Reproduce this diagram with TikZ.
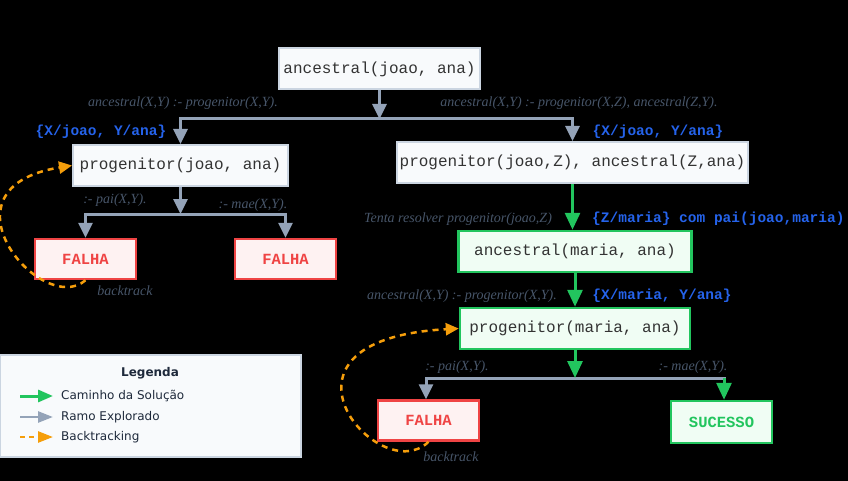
\documentclass[tikz,border=0pt]{standalone}
\usepackage{fontspec}
\setmainfont{Liberation Serif}
\setsansfont{DejaVu Sans}
\setmonofont{Liberation Mono}
\usetikzlibrary{arrows.meta}
\definecolor{goalborder}{HTML}{CBD5E1}
\definecolor{goalfill}{HTML}{F8FAFC}
\definecolor{goaltext}{HTML}{333333}
\definecolor{pathgreen}{HTML}{22C55E}
\definecolor{pathfill}{HTML}{F0FDF4}
\definecolor{failred}{HTML}{EF4444}
\definecolor{failfill}{HTML}{FEF2F2}
\definecolor{branchgray}{HTML}{94A3B8}
\definecolor{btorange}{HTML}{F59E0B}
\definecolor{rulegray}{HTML}{475569}
\definecolor{substblue}{HTML}{2563EB}
\definecolor{legendtext}{HTML}{1E293B}

\begin{document}
\begin{tikzpicture}[x=1pt, y=-1pt,
    goal/.style={rectangle, draw=goalborder, fill=goalfill, line width=2pt, text=goaltext, font=\ttfamily\fontsize{16}{18}\selectfont, minimum height=41pt, inner sep=0pt},
    pathgoal/.style={goal, draw=pathgreen, fill=pathfill, line width=2.5pt},
    failbox/.style={goal, draw=failred, fill=failfill, line width=2.5pt, text=failred, font=\ttfamily\bfseries\fontsize{15.5}{18}\selectfont, minimum width=101pt, minimum height=40pt},
    successbox/.style={failbox, draw=pathgreen, fill=pathfill, text=pathgreen, minimum height=42pt},
    rule/.style={text=rulegray, font=\itshape\fontsize{14}{16}\selectfont, inner sep=0pt},
    subst/.style={text=substblue, font=\ttfamily\bfseries\fontsize{14.5}{16}\selectfont, inner sep=0pt},
    legtext/.style={text=legendtext, font=\sffamily\fontsize{12}{14}\selectfont, anchor=west, inner sep=0pt},
    branch/.style={draw=branchgray, line width=3pt, line cap=rect},
    explored/.style={->, draw=branchgray, line width=3pt, >={Triangle[length=15pt, width=14pt]}},
    solution/.style={->, draw=pathgreen, line width=3pt, >={Triangle[length=17pt, width=15pt]}},
    backtrack/.style={->, draw=btorange, line width=2.5pt, dash pattern=on 6pt off 5pt, >={Triangle[length=13pt, width=12pt]}}]

    \useasboundingbox (0,0) rectangle (848,481);
    \fill[black] (0,0) rectangle (848,481);

    % goals of the search tree
    \node[goal, minimum width=201pt] (A) at (379.5,69) {ancestral(joao, ana)};
    \node[goal, minimum width=215pt] (B) at (180.5,165.5) {progenitor(joao, ana)};
    \node[goal, minimum width=351pt] (C) at (572.5,162.5) {progenitor(joao,Z), ancestral(Z,ana)};
    \node[failbox] (F1) at (85.5,259) {FALHA};
    \node[failbox] (F2) at (285.5,259) {FALHA};
    \node[pathgoal, minimum width=233pt] (D) at (575,251.5) {ancestral(maria, ana)};
    \node[pathgoal, minimum width=230pt] (E) at (575,328.5) {progenitor(maria, ana)};
    \node[failbox] (F3) at (428.5,420.5) {FALHA};
    \node[successbox] (S) at (721.5,422) {SUCESSO};

    % split points
    \coordinate (s1) at (379.5,119);
    \coordinate (s1l) at (180.5,119);
    \coordinate (s1r) at (572.5,119);
    \coordinate (s2) at (180.5,214);
    \coordinate (s2l) at (85.5,214);
    \coordinate (s2r) at (285.5,214);
    \coordinate (s3) at (575,378);
    \coordinate (s3l) at (426,378);
    \coordinate (s3r) at (724,378);

    \draw[branch] (s1l) -- (s1r);
    \draw[explored] (A) -- (s1);
    \draw[explored] (s1l) -- (B);
    \draw[explored] (s1r) -- (C);

    \draw[branch] (s2l) -- (s2r);
    \draw[explored] (B) -- (s2);
    \draw[explored] (s2l) -- (F1);
    \draw[explored] (s2r) -- (F2);

    \draw[solution] (C.south) -- (C.south |- D.north);
    \draw[solution] (D) -- (E);

    \draw[branch] (s3l) -- (s3r);
    \draw[solution] (E) -- (s3);
    \draw[explored] (s3l) -- (s3l |- F3.north);
    \draw[solution] (s3r) -- (s3r |- S.north);

    % backtracking
    \draw[backtrack] (F1.south) .. controls (42,318) and (-68,188) .. (B.west);
    \draw[backtrack] (F3.south) .. controls (380,490) and (250,340) .. (E.west);

    % clause and substitution labels
    \node[rule] (r1) at (183,103) {ancestral(X,Y) :- progenitor(X,Y).};
    \node[rule] (r2) at (579,103) {ancestral(X,Y) :- progenitor(X,Z), ancestral(Z,Y).};
    \node[subst] (u1) at (101,132) {\{X/joao, Y/ana\}};
    \node[subst] (u2) at (658,132) {\{X/joao, Y/ana\}};
    \node[rule] (r3) at (115,200) {:- pai(X,Y).};
    \node[rule] (r4) at (253,205) {:- mae(X,Y).};
    \node[rule] (bt1) at (125,291) {backtrack};
    \node[rule] (r5) at (458,219) {Tenta resolver progenitor(joao,Z)};
    \node[subst, anchor=west] (u3) at (592,219) {\{Z/maria\} com pai(joao,maria)};
    \node[rule] (r6) at (462,296) {ancestral(X,Y) :- progenitor(X,Y).};
    \node[subst] (u4) at (662,296) {\{X/maria, Y/ana\}};
    \node[rule] (r7) at (457,367) {:- pai(X,Y).};
    \node[rule] (r8) at (693,367) {:- mae(X,Y).};
    \node[rule] (bt2) at (451,457) {backtrack};

    % legend
    \node[rectangle, draw=goalborder, fill=goalfill, line width=2pt, minimum width=301pt, minimum height=102pt] (legend) at (150.5,406) {};
    \node[text=legendtext, font=\sffamily\bfseries\fontsize{12}{14}\selectfont] (legtitle) at (150,373) {Legenda};
    \coordinate (l1a) at (20,396); \coordinate (l1b) at (53,396);
    \coordinate (l2a) at (20,417); \coordinate (l2b) at (53,417);
    \coordinate (l3a) at (20,437); \coordinate (l3b) at (53,437);
    \draw[solution, >={Triangle[length=15pt, width=12pt]}] (l1a) -- (l1b);
    \draw[explored, line width=2.5pt, >={Triangle[length=15pt, width=11pt]}] (l2a) -- (l2b);
    \draw[backtrack, dash pattern=on 5pt off 4pt, >={Triangle[length=15pt, width=11pt]}] (l3a) -- (l3b);
    \node[legtext] (lt1) at (61,396) {Caminho da Solução};
    \node[legtext] (lt2) at (61,417) {Ramo Explorado};
    \node[legtext] (lt3) at (61,437) {Backtracking};
\end{tikzpicture}
\end{document}
